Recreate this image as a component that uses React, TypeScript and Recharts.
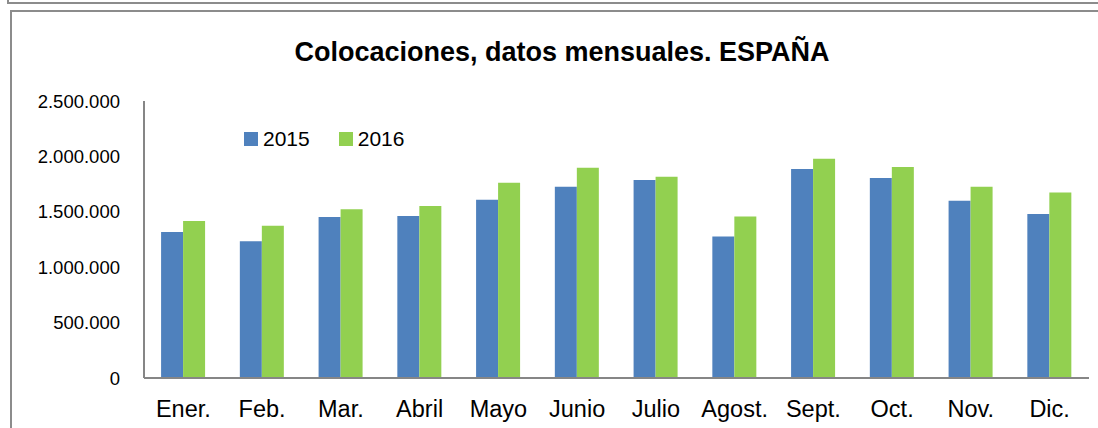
import React from 'react';
import { BarChart, Bar, XAxis, YAxis } from 'recharts';

const months = ['Ener.', 'Feb.', 'Mar.', 'Abril', 'Mayo', 'Junio', 'Julio', 'Agost.', 'Sept.', 'Oct.', 'Nov.', 'Dic.'];
const values2015 = [1318000, 1234000, 1454000, 1463000, 1608000, 1726000, 1786000, 1276000, 1886000, 1804000, 1599000, 1481000];
const values2016 = [1418000, 1375000, 1523000, 1553000, 1762000, 1898000, 1816000, 1457000, 1979000, 1904000, 1726000, 1674000];
const yTicks = [0, 500000, 1000000, 1500000, 2000000, 2500000];

const data = months.map((m, i) => ({ month: m, y2015: values2015[i], y2016: values2016[i] }));

const FONT = '"Liberation Sans", Arial, sans-serif';
const BLUE = '#4f81bd';
const GREEN = '#92d050';
const FRAME = '#8c8c8c';

const fmt = (v: number) => String(v).replace(/\B(?=(\d{3})+(?!\d))/g, '.');

// legend drawn over the plot, top-left like the original
const LegendBox = () => (
  <div
    style={{
      position: 'absolute', left: 244, top: 126, display: 'flex', alignItems: 'center',
      fontFamily: FONT, fontSize: 21, lineHeight: '26px', color: '#000',
    }}
  >
    <span style={{ width: 14, height: 14, background: BLUE, display: 'inline-block', marginRight: 5 }} />
    <span style={{ marginRight: 29 }}>2015</span>
    <span style={{ width: 14, height: 14, background: GREEN, display: 'inline-block', marginRight: 5 }} />
    <span>2016</span>
  </div>
);

export default function App() {
  return (
    <div style={{ position: 'fixed', left: 0, top: 0, width: 1098, height: 428, overflow: 'hidden', background: '#fff' }}>
      {/* previous chart box edge */}
      <div style={{ position: 'absolute', left: 7, top: -20, width: 1200, height: 24, border: `2px solid ${FRAME}`, boxSizing: 'border-box' }} />
      {/* chart frame */}
      <div style={{ position: 'absolute', left: 10, top: 10, width: 1200, height: 500, border: `2px solid ${FRAME}`, boxSizing: 'border-box' }} />
      <div
        style={{
          position: 'absolute', left: 0, top: 39, width: 1124, textAlign: 'center',
          fontFamily: FONT, fontWeight: 'bold', fontSize: 27, lineHeight: '27px', color: '#000',
        }}
      >
        Colocaciones, datos mensuales. ESPAÑA
      </div>
      <div style={{ position: 'absolute', left: 0, top: 0 }}>
        <BarChart
          width={1098}
          height={428}
          data={data}
          margin={{ top: 101, right: 9, bottom: 0, left: 0 }}
          barCategoryGap="21.7%"
          barGap={0}
        >
          <YAxis
            width={144}
            domain={[0, 2500000]}
            ticks={yTicks}
            tickFormatter={fmt}
            tickLine={false}
            tickSize={0}
            tickMargin={24}
            axisLine={{ stroke: '#868686', strokeWidth: 2 }}
            tick={{ fill: '#000', fontSize: 18.5, fontFamily: FONT }}
            interval={0}
          />
          <XAxis
            dataKey="month"
            height={50}
            tickLine={false}
            tickSize={0}
            tickMargin={22}
            axisLine={{ stroke: '#868686', strokeWidth: 2 }}
            tick={{ fill: '#000', fontSize: 23.5, fontFamily: FONT }}
            interval={0}
          />
          <Bar dataKey="y2015" name="2015" fill={BLUE} isAnimationActive={false} />
          <Bar dataKey="y2016" name="2016" fill={GREEN} isAnimationActive={false} />
        </BarChart>
      </div>
      <LegendBox />
    </div>
  );
}
